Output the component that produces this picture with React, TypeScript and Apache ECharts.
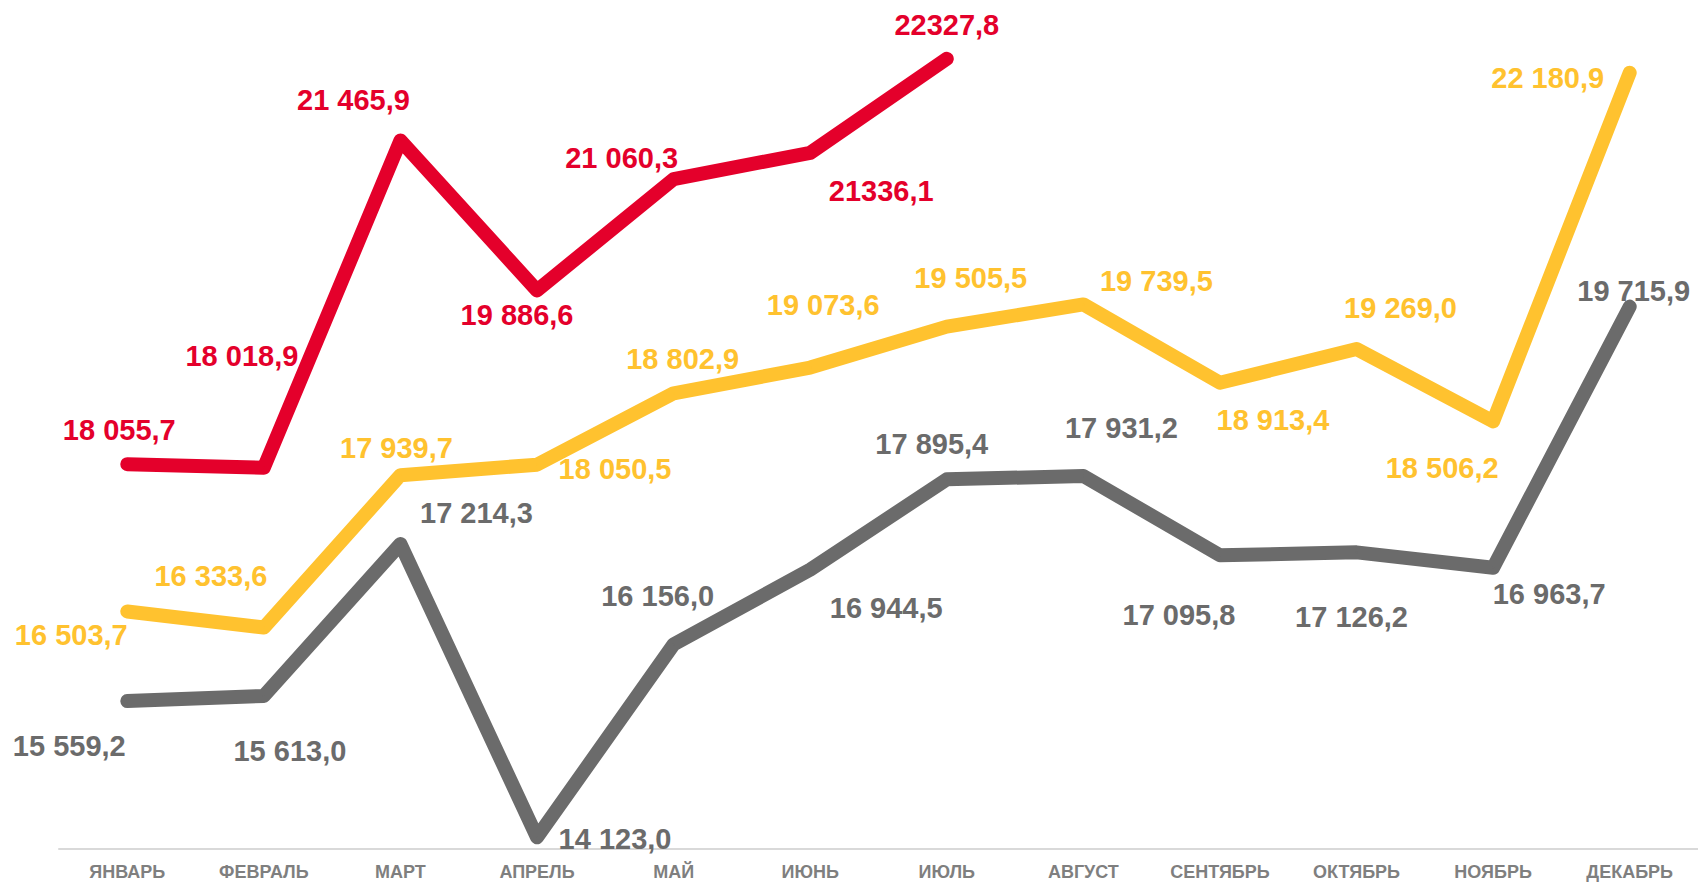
import React, { useEffect, useRef } from "react";
import * as echarts from "echarts";

const months = [
  "ЯНВАРЬ", "ФЕВРАЛЬ", "МАРТ", "АПРЕЛЬ", "МАЙ", "ИЮНЬ",
  "ИЮЛЬ", "АВГУСТ", "СЕНТЯБРЬ", "ОКТЯБРЬ", "НОЯБРЬ", "ДЕКАБРЬ",
];

const grayValues = [15559.2, 15613.0, 17214.3, 14123.0, 16156.0, 16944.5, 17895.4, 17931.2, 17095.8, 17126.2, 16963.7, 19715.9];
const yellowValues = [16503.7, 16333.6, 17939.7, 18050.5, 18802.9, 19073.6, 19505.5, 19739.5, 18913.4, 19269.0, 18506.2, 22180.9];
const redValues = [18055.7, 18018.9, 21465.9, 19886.6, 21060.3, 21336.1, 22327.8];
// red labels printed without thousands separator in the original
const redUngrouped = [5, 6];

// label offsets (px) relative to each point
const grayOffsets = [[-58, 45], [26, 55], [76, -31], [78, 2], [-16, -48], [76, 38], [-15, -35], [38, -48], [-41, 60], [-5, 65], [56, 26], [4, -16]];
const yellowOffsets = [[-56, 24], [-53, -52], [-4, -27], [78, 4], [9, -34], [13, -63], [24, -49], [73, -23], [53, 37], [44, -41], [-51, 47], [-82, 5]];
const redOffsets = [[-8, -34], [-22, -112], [-47, -41], [-20, 25], [-52, -21], [71, 38], [0, -34]];

const RED = "#e4002b";
const YELLOW = "#ffc22f";
const GRAY = "#6b6b6b";
const FONT = "'Liberation Sans', Arial, sans-serif";

function fmt(v: number, group: boolean): string {
  const [i, d] = v.toFixed(1).split(".");
  const int = group ? i.replace(/\B(?=(\d{3})+(?!\d))/g, " ") : i;
  return int + "," + d;
}

function makeSeries(name: string, values: number[], offsets: number[][], color: string, ungrouped: number[] = []) {
  return {
    name,
    type: "line",
    smooth: false,
    symbol: "circle",
    symbolSize: 2,
    itemStyle: { color },
    lineStyle: { color, width: 14, cap: "round", join: "round" },
    data: values.map((v, i) => ({
      value: v,
      label: {
        show: true,
        position: "inside",
        offset: offsets[i],
        formatter: fmt(v, !ungrouped.includes(i)),
        color,
        fontSize: 29,
        fontWeight: "bold",
        fontFamily: FONT,
        align: "center",
        verticalAlign: "middle",
      },
    })),
  };
}

export default function App() {
  const ref = useRef<HTMLDivElement>(null);
  useEffect(() => {
    if (!ref.current) return;
    const chart = echarts.init(ref.current, undefined, { renderer: "svg" });
    chart.setOption({
      animation: false,
      backgroundColor: "#ffffff",
      grid: { left: 59, right: 0, top: 0, bottom: 33, containLabel: false },
      xAxis: {
        type: "category",
        data: months,
        boundaryGap: true,
        axisLine: { show: true, lineStyle: { color: "#d9d9d9", width: 2 } },
        axisTick: { show: false },
        axisLabel: {
          color: "#7f7f7f",
          fontSize: 18,
          fontWeight: "bold",
          fontFamily: FONT,
          margin: 14,
          interval: 0,
        },
      },
      yAxis: {
        type: "value",
        min: 14000,
        max: 23000,
        show: false,
        splitLine: { show: false },
      },
      series: [
        makeSeries("gray", grayValues, grayOffsets, GRAY),
        makeSeries("yellow", yellowValues, yellowOffsets, YELLOW),
        makeSeries("red", redValues, redOffsets, RED, redUngrouped),
      ],
    });
    return () => chart.dispose();
  }, []);
  return (
    <div style={{ position: "fixed", left: 0, top: 0, width: 1698, height: 882, overflow: "hidden", background: "#fff" }}>
      <div
        ref={ref}
        style={{ position: "absolute", left: 0, top: -5, width: 1698, height: 887 }}
      />
    </div>
  );
}
